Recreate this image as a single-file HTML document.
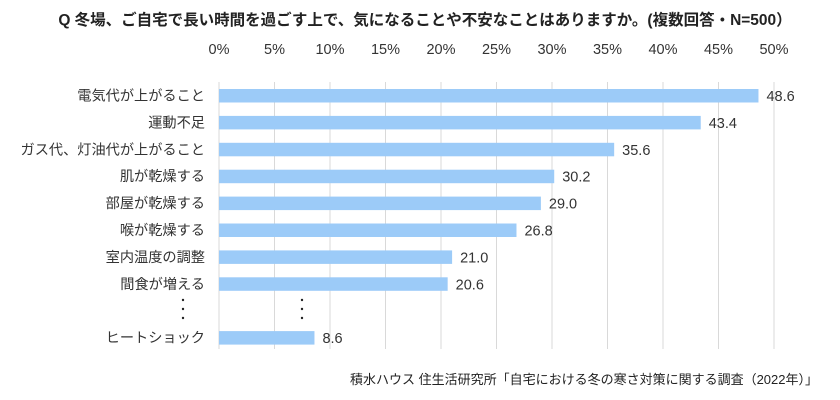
<!DOCTYPE html>
<html><head><meta charset="utf-8"><style>
body{margin:0;background:#fff;}
svg{display:block;font-family:"Liberation Sans","Noto Sans CJK JP",sans-serif;}
</style></head><body>
<svg id="c" width="840" height="400" viewBox="0 0 840 400">
<text x="425" y="25" text-anchor="middle" font-size="15.5" font-weight="bold" fill="#222">Q 冬場、ご自宅で長い時間を過ごす上で、気になることや不安なことはありますか。(複数回答・N=500）</text>
<g id="grid"></g><g id="ticks"></g><g id="bars"></g><g id="labels"></g><g id="vals"></g>
<g fill="#222">
<circle cx="183" cy="300" r="1.2"/><circle cx="183" cy="309" r="1.2"/><circle cx="183" cy="318" r="1.2"/>
<circle cx="302" cy="300" r="1.2"/><circle cx="302" cy="309" r="1.2"/><circle cx="302" cy="318" r="1.2"/>
</g>
<text x="818" y="384" text-anchor="end" font-size="13" fill="#222">積水ハウス 住生活研究所「自宅における冬の寒さ対策に関する調査（2022年）」</text>
</svg>
<script>
const categories=["電気代が上がること","運動不足","ガス代、灯油代が上がること","肌が乾燥する","部屋が乾燥する","喉が乾燥する","室内温度の調整","間食が増える","","ヒートショック"];
const values=[48.6,43.4,35.6,30.2,29.0,26.8,21.0,20.6,null,8.6];
const ticks=[0,5,10,15,20,25,30,35,40,45,50];
const NS="http://www.w3.org/2000/svg";
const x=v=>219+v*11.1;
const y=i=>95.5+i*26.9;
function mk(t,a,p){const e=document.createElementNS(NS,t);for(const k in a)e.setAttribute(k,a[k]);document.getElementById(p).appendChild(e);return e;}
ticks.forEach(t=>{
 const l=mk("line",{x1:x(t),x2:x(t),y1:82,y2:349,stroke:"#d9d9d9","stroke-width":1},"grid");
 
 
 const tx=mk("text",{x:x(t),y:54,"text-anchor":"middle","font-size":"14.5",fill:"#333"},"ticks");
 tx.textContent=t+"%";
 
 
});
categories.forEach((c,i)=>{
 if(c){
 const tl=mk("text",{x:205,y:y(i)+5,"text-anchor":"end","font-size":"14.2",fill:"#333"},"labels");
 tl.textContent=c;
 
 
 }
 const v=values[i];
 if(v==null)return;
 const b=mk("rect",{x:x(0),y:y(i)-6.5,width:x(v)-x(0),height:13.5,fill:"#9ccbf8"},"bars");
 
 
 const vt=mk("text",{x:x(v)+8,y:y(i)+5.5,"font-size":"14.5",fill:"#333"},"vals");
 vt.textContent=v.toFixed(1);
 
 
});
</script>
</body></html>
